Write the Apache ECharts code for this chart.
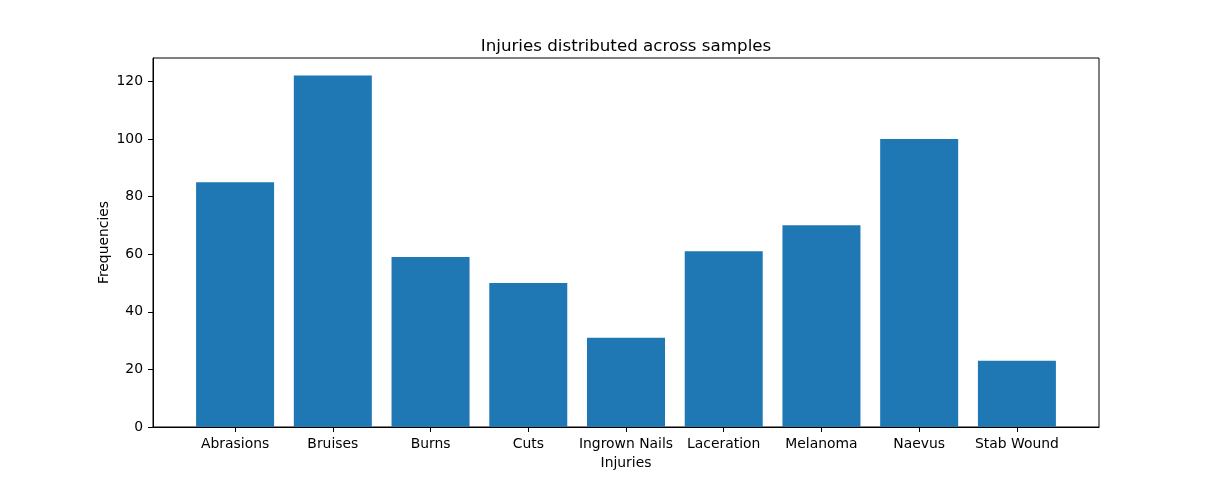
<!DOCTYPE html>
<html>
<head>
<meta charset="utf-8">
<script src="https://cdn.jsdelivr.net/npm/echarts@6/dist/echarts.min.js"></script>
<style>
  html, body { margin: 0; padding: 0; background: #fff; }
  #main { width: 1220px; height: 480px; }
</style>
</head>
<body>
<div id="main"></div>
<script>
// categories and counts
var injuries = ['Abrasions', 'Bruises', 'Burns', 'Cuts', 'Ingrown Nails', 'Laceration', 'Melanoma', 'Naevus', 'Stab Wound'];
var frequencies = [85, 122, 59, 50, 31, 61, 70, 100, 23];
var yTicks = [0, 20, 40, 60, 80, 100, 120];

var positions = injuries.map(function (name, i) { return i; });
var barData = frequencies.map(function (v, i) { return [i, v]; });

var myChart = echarts.init(document.getElementById('main'));
var font = 'DejaVu Sans';

var option = {
  animation: false,
  backgroundColor: '#fff',
  textStyle: { fontFamily: font },
  title: {
    text: 'Injuries distributed across samples',
    left: 621,
    top: 33,
    textAlign: 'center',
    textStyle: { fontFamily: font, fontSize: 16.7, fontWeight: 'normal', color: '#000' }
  },
  grid: {
    left: 153, right: 121, top: 58, bottom: 53,
    show: true, borderColor: '#000', borderWidth: 1, backgroundColor: 'transparent'
  },
  xAxis: {
    type: 'value',
    min: -0.84,
    max: 8.84,
    name: 'Injuries',
    nameLocation: 'middle',
    nameGap: 29,
    nameTextStyle: { fontFamily: font, fontSize: 13.9, color: '#000' },
    splitLine: { show: false },
    axisLine: { show: true, onZero: false, lineStyle: { color: '#000', width: 1 } },
    axisTick: { show: true, customValues: positions, length: 5, lineStyle: { color: '#000' } },
    axisLabel: {
      customValues: positions,
      margin: 10,
      fontFamily: font, fontSize: 13.9, color: '#000',
      formatter: function (v) { return injuries[Math.round(v)]; }
    }
  },
  yAxis: {
    type: 'value',
    min: 0,
    max: 128.1,
    name: 'Frequencies',
    nameLocation: 'middle',
    nameGap: 42,
    nameMoveOverlap: false,
    nameRotate: 90,
    nameTextStyle: { fontFamily: font, fontSize: 13.9, color: '#000' },
    splitLine: { show: false },
    axisLine: { show: true, onZero: false, lineStyle: { color: '#000', width: 1 } },
    axisTick: { show: true, customValues: yTicks, length: 5, lineStyle: { color: '#000' } },
    axisLabel: { customValues: yTicks, margin: 10, fontFamily: font, fontSize: 13.9, color: '#000' }
  },
  series: [{
    type: 'bar',
    data: barData,
    barWidth: 78,
    itemStyle: { color: '#1f77b4' }
  }]
};

myChart.setOption(option);
</script>
</body>
</html>
